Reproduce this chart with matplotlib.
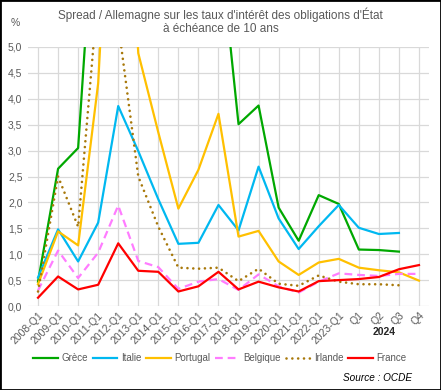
import numpy as np
import matplotlib
matplotlib.use("Agg")
import matplotlib.pyplot as plt
from matplotlib.patches import Rectangle

plt.rcParams['font.family'] = ['Liberation Sans', 'DejaVu Sans']

categories = ["2008-Q1", "2009-Q1", "2010-Q1", "2011-Q1", "2012-Q1", "2013-Q1",
              "2014-Q1", "2015-Q1", "2016-Q1", "2017-Q1", "2018-Q1", "2019-Q1",
              "2020-Q1", "2021-Q1", "2022-Q1", "2023-Q1", "Q1", "Q2", "Q3", "Q4"]

nan = np.nan
grece = [0.47, 2.65, 3.05, 8.9, 25.0, 10.0, 6.0, 9.0, 8.5, 7.25, 3.51, 3.87,
         1.90, 1.26, 2.14, 1.97, 1.09, 1.08, 1.05, nan]
italie = [0.55, 1.48, 0.86, 1.61, 3.86, 2.99, 2.06, 1.20, 1.22, 1.95, 1.46, 2.69,
          1.69, 1.10, 1.54, 1.95, 1.51, 1.39, 1.41, nan]
portugal = [0.42, 1.44, 1.17, 4.3, 11.6, 4.88, 3.35, 1.88, 2.63, 3.71, 1.34, 1.45,
            0.86, 0.60, 0.84, 0.91, 0.74, 0.69, 0.65, 0.49]
belgique = [0.30, 1.07, 0.54, 1.03, 1.94, 0.87, 0.75, 0.33, 0.47, 0.52, 0.31, 0.61,
            0.38, 0.26, 0.47, 0.63, 0.60, 0.58, 0.62, 0.62]
irlande = [0.28, 2.50, 1.53, 6.1, 5.45, 2.50, 1.53, 0.74, 0.72, 0.74, 0.48, 0.72,
           0.43, 0.39, 0.59, 0.47, 0.42, 0.42, 0.40, nan]
france = [0.16, 0.57, 0.32, 0.41, 1.21, 0.68, 0.66, 0.28, 0.38, 0.66, 0.32, 0.47,
          0.36, 0.28, 0.48, 0.50, 0.52, 0.56, 0.71, 0.79]

W, H = 441, 390
fig = plt.figure(figsize=(W / 100, H / 100), dpi=100)
ax = fig.add_axes([28 / W, (H - 306) / H, (429 - 28) / W, (306 - 47) / H])

x = np.arange(len(categories))
lw = 1.6
ax.plot(x, grece, color="#00A800", lw=lw, label="Grèce", zorder=3)
ax.plot(x, italie, color="#00B8F0", lw=lw, label="Italie", zorder=3)
ax.plot(x, portugal, color="#FFC000", lw=lw, label="Portugal", zorder=3)
ax.plot(x, belgique, color="#FF7CFF", lw=lw, ls=(0, (3.5, 2.2)), label="Belgique", zorder=3)
ax.plot(x, irlande, color="#A8780A", lw=1.9, ls=(0, (0.01, 2.2)),
        dash_capstyle='round', label="Irlande", zorder=3)
ax.plot(x, france, color="#FF0000", lw=lw, label="France", zorder=4)

ax.set_xlim(-0.5, len(categories) - 0.5)
ax.set_ylim(0, 5)
yt = np.arange(0, 5.01, 0.5)
ax.set_yticks(yt)
ax.set_yticklabels([f"{v:.1f}".replace(".", ",") for v in yt])
ax.set_xticks(x)
ax.set_xticklabels(categories, rotation=45, ha="right", va="top",
                   rotation_mode="anchor")
ax.tick_params(axis="both", length=0, labelsize=7.5, colors="#595959")
ax.tick_params(axis="x", pad=3)
ax.tick_params(axis="y", pad=4)
ax.grid(True, color="#D9D9D9", lw=0.9)
ax.set_axisbelow(True)
for s in ax.spines.values():
    s.set_visible(False)

fig.text(0.5, 1 - 15 / H, "Spread / Allemagne sur les taux d'intérêt des obligations d'État",
         ha="center", va="center", fontsize=8.5, color="#595959")
fig.text(0.5, 1 - 29 / H, "à échéance de 10 ans",
         ha="center", va="center", fontsize=8.5, color="#595959")
fig.text(15 / W, 1 - 23 / H, "%", ha="center", va="center", fontsize=7.5, color="#595959")

t = ax.text(17.25, -(331.7 - 306) / 51.8, "2024", ha="center", va="center",
            fontsize=7.5, fontweight="bold", color="#262626")
t.set_clip_on(False)

fig.legend(loc="center", bbox_to_anchor=(220 / W, 1 - 358 / H), ncol=6,
           frameon=False, fontsize=7, handlelength=2.5, handletextpad=0.4,
           columnspacing=0.5, labelcolor="#595959")

fig.text(412 / W, 1 - 378 / H, "Source : OCDE", ha="right", va="center",
         fontsize=7.2, style="italic", color="#000000")

fig.add_artist(Rectangle((0, 0), 1, 1, transform=fig.transFigure, fill=False,
                         edgecolor="black", lw=2.0))

fig.savefig("out.png", dpi=100)
